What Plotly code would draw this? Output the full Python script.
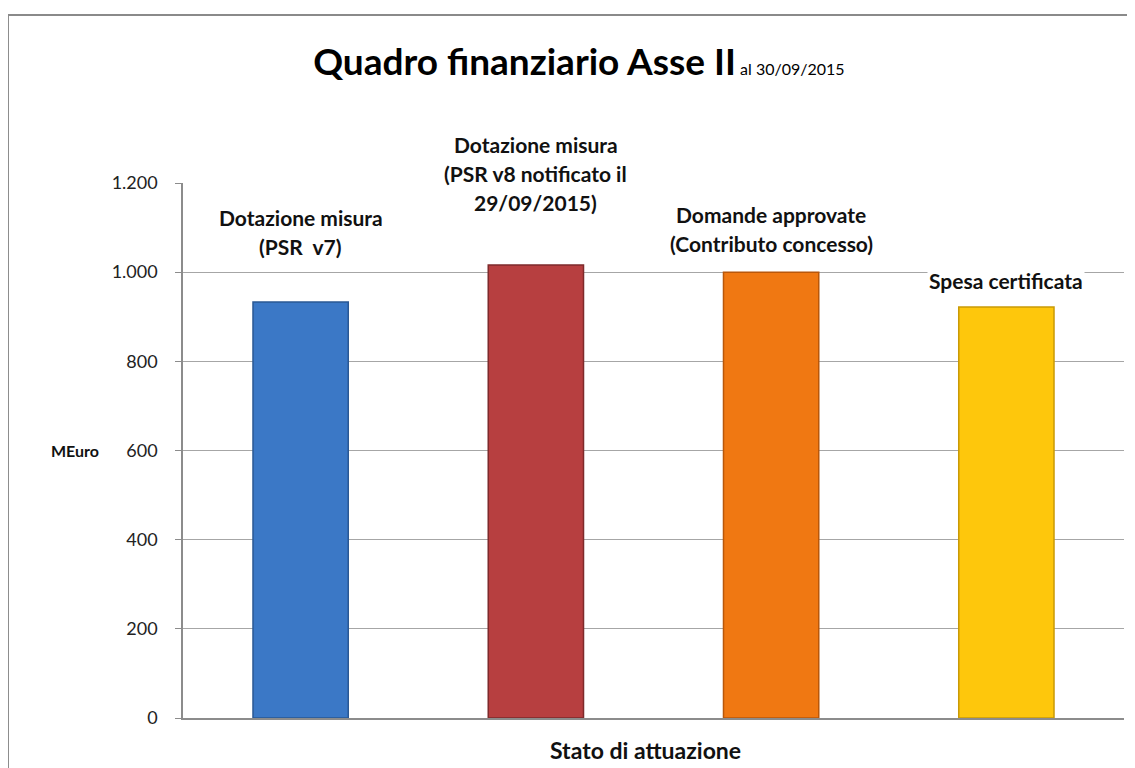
import plotly.graph_objects as go

categories = ['Dotazione misura (PSR v7)',
              'Dotazione misura (PSR v8)',
              'Domande approvate',
              'Spesa certificata']
values = [933, 1016, 1000, 922]
bar_labels = ['Dotazione misura<br>(PSR  v7)',
              'Dotazione misura<br>(PSR v8 notificato il<br>29/09/2015)',
              'Domande approvate<br>(Contributo concesso)',
              'Spesa certificata']
y_ticks = [0, 200, 400, 600, 800, 1000, 1200]

colors = ['#3b78c6', '#b73f40', '#f07812', '#fec70c']
edges = ['#2a5894', '#7e2a2b', '#b9570a', '#c99a06']
label_gap = [56, 63, 29, 26]   # px between bar top and the last label line
line_step = 29

FONT = 'Lato'

fig = go.Figure()
fig.add_trace(go.Bar(
    x=categories,
    y=values,
    width=0.405,
    marker=dict(color=colors, line=dict(color=edges, width=1.5)),
    hoverinfo='x+y',
    showlegend=False
))

annotations = []
for cat, val, lab, gap in zip(categories, values, bar_labels, label_gap):
    lines = lab.split('<br>')
    n = len(lines)
    for i, txt in enumerate(lines):
        annotations.append(dict(
            x=cat, y=val, xref='x', yref='y',
            text='<b>%s</b>' % txt,
            showarrow=False,
            yanchor='middle',
            yshift=gap + (n - 1 - i) * line_step,
            bgcolor='white',
            font=dict(family=FONT, size=21, color='#111111')
        ))

annotations.append(dict(
    x=-0.115, y=0.5, xref='paper', yref='paper',
    xanchor='center', yanchor='middle',
    text='<b>MEuro</b>', showarrow=False,
    font=dict(family=FONT, size=16, color='#111111')
))
annotations.append(dict(
    x=0.491, y=-0.06, xref='paper', yref='paper',
    xanchor='center', yanchor='middle',
    text='<b>Stato di attuazione</b>', showarrow=False,
    font=dict(family=FONT, size=23, color='#111111')
))

fig.update_layout(
    width=1135,
    height=768,
    paper_bgcolor='white',
    plot_bgcolor='white',
    separators=',.',
    margin=dict(l=175, r=19, t=175, b=58),
    title=dict(
        text="<b>Quadro finanziario Asse II</b><span style='font-size:16px'> al 30/09/2015</span>",
        x=0.503, xanchor='center',
        y=1 - 54 / 768, yanchor='middle',
        font=dict(family=FONT, size=37, color='#000000')
    ),
    xaxis=dict(
        showticklabels=False,
        showline=True, linecolor='#8c8c8c', linewidth=1.5,
        ticks='', showgrid=False
    ),
    yaxis=dict(
        range=[0, 1200],
        tickvals=y_ticks,
        tickformat=',d',
        showline=True, linecolor='#8c8c8c', linewidth=1.5,
        ticks='outside', ticklen=6, tickcolor='#8c8c8c',
        showgrid=True, gridcolor='#a6a6a6', gridwidth=1.2,
        zeroline=False,
        tickfont=dict(family=FONT, size=18, color='#222222'),
        ticklabelstandoff=14
    ),
    annotations=annotations,
    shapes=[
        dict(type='line', xref='paper', yref='paper',
             x0=-0.186, x1=1.03, y0=1.314, y1=1.314,
             line=dict(color='#8a8a8a', width=2)),
        dict(type='line', xref='paper', yref='paper',
             x0=-0.186, x1=-0.186, y0=1.314, y1=-0.12,
             line=dict(color='#8a8a8a', width=2)),
    ]
)

fig.write_html('out.html')
